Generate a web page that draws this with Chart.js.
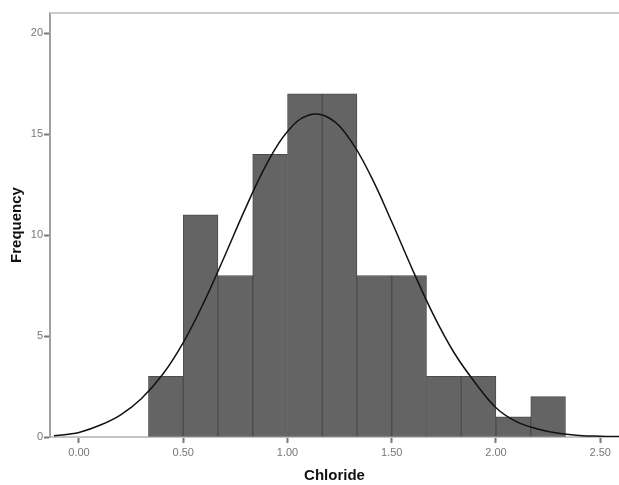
<!DOCTYPE html>
<html>
<head>
<meta charset="utf-8">
<title>Chloride histogram</title>
<script src="https://cdn.jsdelivr.net/npm/chart.js@4/dist/chart.umd.min.js"></script>
<style>
  html, body { margin: 0; padding: 0; background: #fff; }
  .chart-box { width: 619px; height: 485px; position: relative; }
</style>
</head>
<body>
<div class="chart-box"><canvas id="histChart"></canvas></div>
<script>
// bin edges and counts
var binEdges = [0.333, 0.5, 0.667, 0.833, 1.0, 1.167, 1.333, 1.5, 1.667, 1.833, 2.0, 2.167, 2.333];
var counts = [3, 11, 8, 14, 17, 17, 8, 8, 3, 3, 1, 2];
// normal curve
var curveX = [-0.12, -0.05, 0.0, 0.1, 0.2, 0.3, 0.4, 0.5, 0.6, 0.7, 0.8, 0.9, 1.0, 1.1, 1.2, 1.3, 1.4, 1.5, 1.6, 1.7, 1.8, 1.9, 2.0, 2.1, 2.2, 2.3, 2.4, 2.5, 2.6];
var curveY = [0.06, 0.14, 0.22, 0.58, 1.1, 1.91, 3.08, 4.68, 6.69, 8.99, 11.36, 13.52, 15.13, 15.94, 15.8, 14.73, 12.92, 10.66, 8.28, 6.05, 4.16, 2.69, 1.45, 0.75, 0.4, 0.18, 0.08, 0.04, 0.02];
var xTicks = [0, 0.5, 1.0, 1.5, 2.0, 2.5];
var yTicks = [0, 5, 10, 15, 20];

var barPoints = counts.map(function (c, i) {
  return { x: (binEdges[i] + binEdges[i + 1]) / 2, y: c };
});
var curvePoints = curveX.map(function (x, i) {
  return { x: x, y: curveY[i] };
});

// top frame line of the plot box
var frameLine = {
  id: "frameLine",
  beforeDatasetsDraw: function (chart) {
    var a = chart.chartArea;
    var ctx = chart.ctx;
    ctx.save();
    ctx.strokeStyle = "#cccccc";
    ctx.lineWidth = 2;
    ctx.beginPath();
    ctx.moveTo(a.left, a.top);
    ctx.lineTo(a.right, a.top);
    ctx.stroke();
    ctx.restore();
  },
};

new Chart("histChart", {
  type: "bar",
  data: {
    datasets: [
      {
        type: "line",
        data: curvePoints,
        borderColor: "#111111",
        borderWidth: 1.5,
        pointRadius: 0,
        tension: 0.4,
        fill: false,
        order: 0,
      },
      {
        type: "bar",
        data: barPoints,
        backgroundColor: "#646464",
        borderColor: "#4d4d4d",
        borderWidth: 1,
        borderSkipped: false,
        barPercentage: 1,
        categoryPercentage: 1,
        order: 1,
      },
    ],
  },
  options: {
    responsive: true,
    maintainAspectRatio: false,
    animation: false,
    layout: { padding: { top: 13, right: 0, left: 0, bottom: 0 } },
    plugins: {
      legend: { display: false },
      tooltip: { enabled: false },
    },
    scales: {
      x: {
        type: "linear",
        offset: false,
        min: -0.139,
        max: 2.59,
        afterBuildTicks: function (scale) {
          scale.ticks = xTicks.map(function (v) { return { value: v }; });
        },
        afterFit: function (scale) { scale.height = 48; },
        grid: {
          offset: false,
          drawOnChartArea: false,
          drawTicks: true,
          tickLength: 6,
          tickColor: "#777777",
          tickWidth: 2,
        },
        border: { display: true, color: "#c4c4c4", width: 2 },
        ticks: {
          padding: 3,
          color: "#777777",
          maxRotation: 0,
          font: { family: "'Liberation Sans', Arial, sans-serif", size: 11 },
          callback: function (v) { return Number(v).toFixed(2); },
        },
        title: {
          display: true,
          text: "Chloride",
          color: "#111111",
          padding: { top: 0, bottom: 0 },
          font: { family: "'Liberation Sans', Arial, sans-serif", size: 15, weight: "bold" },
        },
      },
      y: {
        min: 0,
        max: 21,
        afterBuildTicks: function (scale) {
          scale.ticks = yTicks.map(function (v) { return { value: v }; });
        },
        afterFit: function (scale) { scale.width = 50; },
        grid: {
          drawOnChartArea: false,
          drawTicks: true,
          tickLength: 6,
          tickColor: "#777777",
          tickWidth: 2,
        },
        border: { display: true, color: "#a0a0a0", width: 2 },
        ticks: {
          padding: 1,
          color: "#777777",
          font: { family: "'Liberation Sans', Arial, sans-serif", size: 11 },
        },
        title: {
          display: true,
          text: "Frequency",
          color: "#111111",
          padding: { top: 8, bottom: 0 },
          font: { family: "'Liberation Sans', Arial, sans-serif", size: 15, weight: "bold" },
        },
      },
    },
  },
  plugins: [frameLine],
});
</script>
</body>
</html>
